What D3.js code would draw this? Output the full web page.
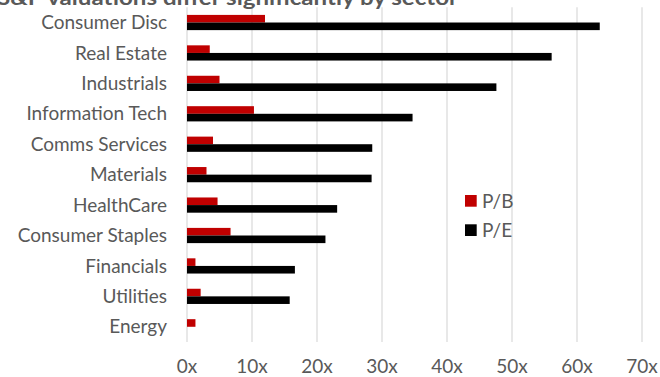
<!DOCTYPE html>
<html>
<head>
<meta charset="utf-8">
<script src="https://cdn.jsdelivr.net/npm/d3@7/dist/d3.min.js"></script>
<style>
  html, body { margin: 0; padding: 0; background: #fff; }
  svg { display: block; }
  text { font-family: Lato, "Open Sans", sans-serif; fill: #595959; }
</style>
</head>
<body>
<svg id="chart" width="660" height="377"></svg>
<script>
// Sector valuation multiples (x)
const sectors = ["Consumer Disc", "Real Estate", "Industrials", "Information Tech",
  "Comms Services", "Materials", "HealthCare", "Consumer Staples",
  "Financials", "Utilities", "Energy"];
const pbValues = [12.0, 3.5, 5.0, 10.3, 4.0, 3.0, 4.7, 6.7, 1.3, 2.1, 1.3];
const peValues = [63.5, 56.1, 47.6, 34.7, 28.5, 28.4, 23.1, 21.3, 16.6, 15.8, null];
const seriesNames = ["P/B", "P/E"];
const seriesColors = ["#C00000", "#000000"];
const xTicks = [0, 10, 20, 30, 40, 50, 60, 70];
const titleText = "S&P valuations differ significantly by sector";

const svg = d3.select("#chart");

const x = d3.scaleLinear().domain([0, 70]).range([187, 642]);
const y = d3.scaleBand().domain(sectors).range([7.3, 342])
  .paddingInner(0.5).paddingOuter(0.25);
const ySub = d3.scaleBand().domain(seriesNames).range([0, y.bandwidth()]);
const color = d3.scaleOrdinal().domain(seriesNames).range(seriesColors);

// vertical gridlines
svg.append("g").selectAll("line").data(xTicks).join("line")
  .attr("x1", d => x(d)).attr("x2", d => x(d))
  .attr("y1", 7.3).attr("y2", 342)
  .attr("stroke", "#d9d9d9").attr("stroke-width", 1.2);

// bars
const rows = sectors.map((s, i) => ({ sector: s, vals: [pbValues[i], peValues[i]] }));
const groups = svg.append("g").selectAll("g").data(rows).join("g")
  .attr("transform", d => `translate(0,${y(d.sector)})`);
groups.selectAll("rect")
  .data(d => d.vals.map((v, j) => ({ key: seriesNames[j], v })).filter(e => e.v != null))
  .join("rect")
  .attr("x", x(0))
  .attr("y", d => ySub(d.key))
  .attr("width", d => x(d.v) - x(0))
  .attr("height", ySub.bandwidth())
  .attr("fill", d => color(d.key));

// category labels
svg.append("g").selectAll("text").data(sectors).join("text")
  .attr("x", 167)
  .attr("y", d => y(d) + y.bandwidth() / 2)
  .attr("dy", "0.35em")
  .attr("text-anchor", "end")
  .style("font-size", "19px")
  .text(d => d);

// x axis labels
svg.append("g").selectAll("text").data(xTicks).join("text")
  .attr("x", d => x(d))
  .attr("y", 373)
  .attr("text-anchor", "middle")
  .style("font-size", "19px")
  .text(d => d + "x");

// legend
const legend = svg.append("g").selectAll("g").data(seriesNames).join("g")
  .attr("transform", (d, i) => `translate(465,${195 + i * 29.3})`);
legend.append("rect").attr("width", 11.7).attr("height", 11.7)
  .attr("fill", d => color(d));
legend.append("text").attr("x", 17).attr("y", 6).attr("dy", "0.35em")
  .style("font-size", "19px").text(d => d);

// title
svg.append("text")
  .attr("x", -3).attr("y", 4.7)
  .attr("textLength", 461).attr("lengthAdjust", "spacingAndGlyphs")
  .style("font-size", "20px").style("font-weight", "bold")
  .text(titleText);
</script>
</body>
</html>
